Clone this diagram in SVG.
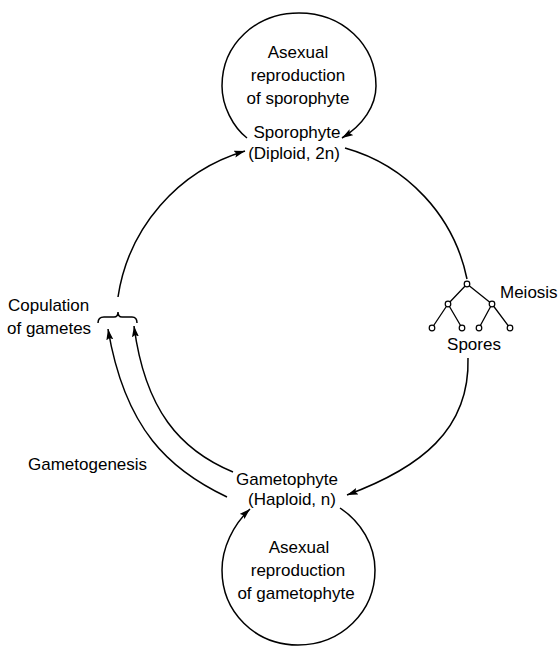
<svg xmlns="http://www.w3.org/2000/svg" width="559" height="648" viewBox="0 0 559 648">
<style>
text{font-family:"Liberation Sans",Arial,sans-serif;font-size:17px;fill:#000}
.c{text-anchor:middle}
.ln{fill:none;stroke:#000;stroke-width:1.5}
.nd{fill:#fff;stroke:#000;stroke-width:1.2}
</style>
<defs>
<marker id="ah" markerUnits="userSpaceOnUse" markerWidth="13" markerHeight="8" refX="11" refY="3.5" orient="auto">
<path d="M0,0 L11,3.5 L0,7 L2,3.5 z" fill="#000"/>
</marker>
</defs>
<rect width="559" height="648" fill="#fff"/>
<g id="connectors">
<path class="ln" marker-end="url(#ah)" d="M247,138 C233,127 222,106 222,86 C222,44 256,13 299,13 C342,13 376,44 376,86 C376,106 363,125 342,138"/>
<path class="ln" marker-end="url(#ah)" d="M340,508 C361,522 375,545 375,570 C375,612 341,645 298,645 C255,645 222,612 222,570 C222,548 233,525 250,509"/>
<path class="ln" marker-end="url(#ah)" d="M118,297 A180,180 0 0 1 245,151"/>
<path class="ln" d="M345,148 A172,172 0 0 1 467,279"/>
<path class="ln" marker-end="url(#ah)" d="M468,358 C470,430 420,468 347,495"/>
<path class="ln" marker-end="url(#ah)" d="M233,472 C180,450 145,410 134,326"/>
<path class="ln" marker-end="url(#ah)" d="M227,497 C170,470 125,430 108,329"/>
</g>
<g id="sporophyte-loop-label">
<text class="c" x="298" y="58">Asexual</text>
<text class="c" x="298" y="81">reproduction</text>
<text class="c" x="298" y="104">of sporophyte</text>
</g>
<g id="sporophyte">
<text class="c" x="297" y="138">Sporophyte</text>
<text class="c" x="294" y="159">(Diploid, 2n)</text>
</g>
<g id="meiosis">
<g class="ln">
<path d="M467,284 L448,304 M467,284 L492,304 M448,304 L432,328 M448,304 L462,328 M492,304 L479,328 M492,304 L510,328" stroke-width="1.3"/>
</g>
<circle class="nd" cx="467" cy="284" r="2.8"/>
<circle class="nd" cx="448" cy="304" r="2.8"/>
<circle class="nd" cx="492" cy="304" r="2.8"/>
<circle class="nd" cx="432" cy="328" r="2.8"/>
<circle class="nd" cx="462" cy="328" r="2.8"/>
<circle class="nd" cx="479" cy="328" r="2.8"/>
<circle class="nd" cx="510" cy="328" r="2.8"/>
<text x="500" y="298">Meiosis</text>
<text class="c" x="474" y="350">Spores</text>
</g>
<g id="copulation">
<path class="ln" stroke-width="1.2" d="M98,323 Q98,317 104,317 L114,317 Q118,317 118,312 Q118,317 122,317 L132,317 Q137,317 137,323"/>
<text x="8" y="311">Copulation</text>
<text x="7" y="334">of gametes</text>
</g>
<g id="gametogenesis">
<text x="28" y="470">Gametogenesis</text>
</g>
<g id="gametophyte">
<text class="c" x="287" y="485">Gametophyte</text>
<text class="c" x="292" y="505">(Haploid, n)</text>
</g>
<g id="gametophyte-loop-label">
<text class="c" x="299" y="553">Asexual</text>
<text class="c" x="298" y="576">reproduction</text>
<text class="c" x="296" y="599">of gametophyte</text>
</g>
</svg>
